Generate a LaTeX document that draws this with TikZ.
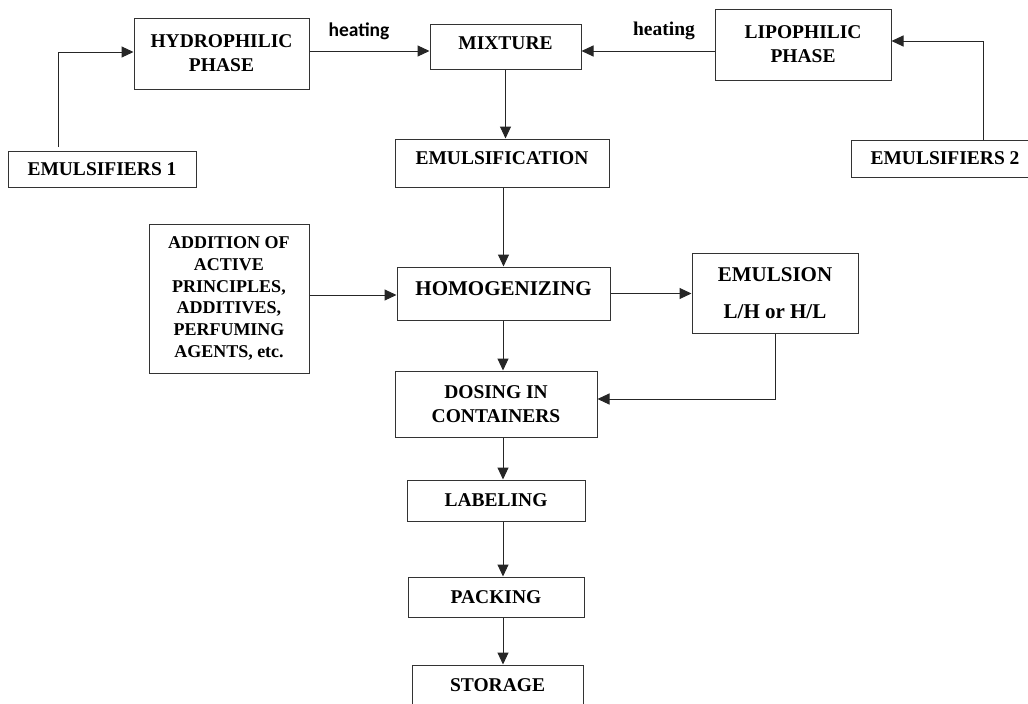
\documentclass[tikz,border=0pt]{standalone}
\usepackage{fontspec}
\setmainfont{Liberation Serif}
\newfontfamily\calib{Carlito}
\usetikzlibrary{arrows.meta,calc}
\tikzset{
  box/.style={draw=black!80, line width=1pt, inner sep=0pt, align=center,
    font=\fontsize{19.5}{24}\selectfont\bfseries},
  arr/.style={draw=black!85, line width=1pt, -{Triangle[length=12pt,width=11pt]}},
  lbl/.style={inner sep=0pt, font=\fontsize{19.5}{24}\selectfont\bfseries}
}
\begin{document}
\begin{tikzpicture}[x=1pt,y=-1pt]
\useasboundingbox (0,0) rectangle (1028,704);
% nodes
\node[box, minimum width=175, minimum height=71] (hydro) at (221.5,53.5) {HYDROPHILIC\\PHASE};
\node[box, minimum width=151, minimum height=45, text depth=7pt] (mix) at (505.5,46.5) {MIXTURE};
\node[box, minimum width=176, minimum height=71] (lipo) at (803,44.5) {LIPOPHILIC\\PHASE};
\node[box, minimum width=188, minimum height=36] (em1) at (102,169) {EMULSIFIERS 1};
\node[box, minimum width=188, minimum height=37] (em2) at (945,158.5) {EMULSIFIERS 2};
\node[box, minimum width=214, minimum height=48, text depth=9pt] (emf) at (502,163) {EMULSIFICATION};
\node[box, minimum width=160, minimum height=149, font=\fontsize{18}{21.7}\selectfont\bfseries] (add) at (229,298.5) {ADDITION OF\\ACTIVE\\PRINCIPLES,\\ADDITIVES,\\PERFUMING\\AGENTS, etc.};
\node[box, minimum width=213, minimum height=53, font=\fontsize{21}{24}\selectfont\bfseries, text depth=10pt] (homo) at (503.5,293.5) {HOMOGENIZING};
\node[box, minimum width=166, minimum height=80, font=\fontsize{21}{37}\selectfont\bfseries] (emul) at (775,293) {EMULSION\\L/H or H/L};
\node[box, minimum width=202, minimum height=66] (dos) at (496,404) {DOSING IN\\CONTAINERS};
\node[box, minimum width=178, minimum height=41] (lab) at (496,500.5) {LABELING};
\node[box, minimum width=176, minimum height=40] (pack) at (496,597) {PACKING};
\node[box, minimum width=171, minimum height=41] (stor) at (497.5,685.5) {STORAGE};
\node[lbl, font=\fontsize{19.5}{24}\selectfont\calib\bfseries] (h1) at (359,31) {heating};
\node[lbl] (h2) at (664,31) {heating};
% helper coordinates
\coordinate (r1) at (0,51);
\coordinate (c1) at (58,147);
\coordinate (c2) at (983,41);
\coordinate (col) at (503,0);
\coordinate (ra) at (0,295);
\coordinate (rd) at (0,399);
% connectors
\draw[arr] (hydro.east |- r1) -- (mix.west |- r1);
\draw[arr] (lipo.west |- r1) -- (mix.east |- r1);
\draw[arr] (c1) |- (hydro.west |- 0,52);
\draw[arr] (em2.north -| c2) |- (lipo.east |- c2);
\draw[arr] (mix.south) -- (mix.south |- emf.north);
\draw[arr] (homo.north |- emf.south) -- (homo.north);
\draw[arr] (add.east |- ra) -- (homo.west |- ra);
\draw[arr] (homo.east) -- (emul.west |- homo.east);
\draw[arr] (homo.south -| col) -- (dos.north -| col);
\draw[arr] (emul.south) |- (dos.east |- rd);
\draw[arr] (dos.south -| col) -- (lab.north -| col);
\draw[arr] (lab.south -| col) -- (pack.north -| col);
\draw[arr] (pack.south -| col) -- (stor.north -| col);
\end{tikzpicture}
\end{document}
